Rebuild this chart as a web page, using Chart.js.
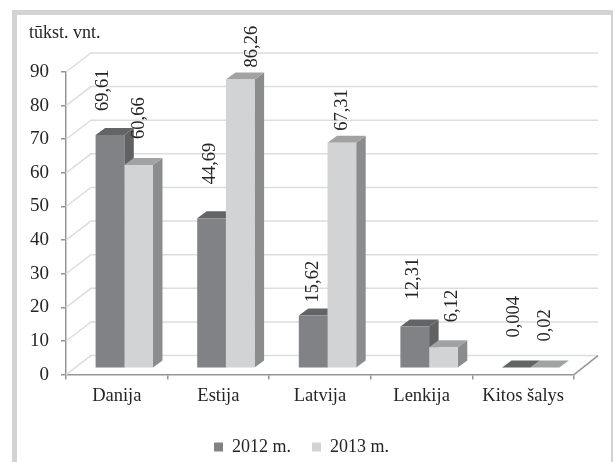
<!DOCTYPE html>
<html>
<head>
<meta charset="utf-8">
<script src="https://cdn.jsdelivr.net/npm/chart.js@4"></script>
<style>
  html, body { margin: 0; padding: 0; background: #fff; overflow: hidden; }
  #wrap { position: relative; width: 613px; height: 462px; overflow: hidden; }
  #frame { position: absolute; left: 12px; top: 10px; width: 594px; height: 470px; border: 5px solid #d1d3d4; }
  canvas { position: absolute; left: 0; top: 0; filter: blur(0.45px); }
</style>
</head>
<body>
<div id="wrap">
  <div id="frame"></div>
  <canvas id="chart" width="613" height="462"></canvas>
</div>
<script>
const categories = ['Danija', 'Estija', 'Latvija', 'Lenkija', 'Kitos šalys'];
const values2012 = [69.61, 44.69, 15.62, 12.31, 0.004];
const values2013 = [60.66, 86.26, 67.31, 6.12, 0.02];
const valueLabels2012 = ['69,61', '44,69', '15,62', '12,31', '0,004'];
const valueLabels2013 = ['60,66', '86,26', '67,31', '6,12', '0,02'];

// hand placed labels, same as the original: [shift x from bar centre, gap above bar]
const labelPlace2012 = [[-7, 24], [-1, 34], [0, 13], [-2, 27], [-2, 30]];
const labelPlace2013 = [[0, 26], [12, 12], [0, 12], [9, 25], [0, 26]];

const serif = '"Liberation Serif", "Times New Roman", serif';
const textColor = '#262526';
const axisColor = '#939598';
const gridColor = '#dcddde';

// wall depth and bar depth of the fake 3d
const wallDx = 25, wallDy = 19;
const barShiftX = 7.5, barShiftY = 7;
const barDx = 9.5, barDy = 7;

const walls = {
  id: 'walls',
  beforeDatasetsDraw(chart) {
    const { ctx, chartArea: a } = chart;
    const y = chart.scales.y;
    ctx.save();
    ctx.strokeStyle = gridColor;
    ctx.lineWidth = 1.5;
    y.ticks.forEach(t => {
      const py = y.getPixelForValue(t.value);
      ctx.beginPath();
      ctx.moveTo(a.left, py);
      ctx.lineTo(a.left + wallDx, py - wallDy);
      ctx.lineTo(a.right + wallDx - 1, py - wallDy);
      ctx.stroke();
    });
    ctx.strokeStyle = axisColor;
    ctx.beginPath();
    ctx.moveTo(a.right, a.bottom);
    ctx.lineTo(a.right + wallDx - 1, a.bottom - wallDy);
    ctx.stroke();
    ctx.restore();
  }
};

function face(ctx, color, pts) {
  ctx.fillStyle = color;
  ctx.beginPath();
  pts.forEach((p, i) => i ? ctx.lineTo(p[0], p[1]) : ctx.moveTo(p[0], p[1]));
  ctx.closePath();
  ctx.fill();
}

const bars3d = {
  id: 'bars3d',
  // side and top faces of all bars go first, the library then puts the fronts over them
  beforeDatasetsDraw(chart) {
    const { ctx } = chart;
    ctx.save();
    ctx.translate(barShiftX, -barShiftY);
    chart.data.datasets.forEach((ds, i) => {
      chart.getDatasetMeta(i).data.forEach(el => {
        const l = el.x - el.width / 2, r = el.x + el.width / 2;
        face(ctx, ds.sideColor, [[r, el.y], [r + barDx, el.y - barDy], [r + barDx, el.base - barDy], [r, el.base]]);
        face(ctx, ds.topColor, [[l, el.y], [l + barDx, el.y - barDy], [r + barDx, el.y - barDy], [r, el.y]]);
      });
    });
    ctx.restore();
  },
  beforeDatasetDraw(chart) {
    chart.ctx.save();
    chart.ctx.translate(barShiftX, -barShiftY);
  },
  afterDatasetDraw(chart) {
    chart.ctx.restore();
  },
  afterDatasetsDraw(chart) {
    const { ctx } = chart;
    ctx.save();
    ctx.fillStyle = textColor;
    ctx.font = '18.5px ' + serif;
    ctx.textAlign = 'left';
    ctx.textBaseline = 'middle';
    chart.data.datasets.forEach((ds, i) => {
      chart.getDatasetMeta(i).data.forEach((el, j) => {
        ctx.save();
        ctx.translate(el.x + barShiftX + ds.labelPlace[j][0], el.y - barShiftY - ds.labelPlace[j][1]);
        ctx.rotate(-Math.PI / 2);
        ctx.fillText(ds.valueLabels[j], 0, 0);
        ctx.restore();
      });
    });
    ctx.restore();
  }
};

new Chart(document.getElementById('chart'), {
  type: 'bar',
  data: {
    labels: categories,
    datasets: [
      {
        label: '2012 m.',
        data: values2012,
        yAxisID: 'yBars',
        clip: false,
        backgroundColor: '#808285',
        sideColor: '#606163',
        topColor: '#636466',
        valueLabels: valueLabels2012,
        labelPlace: labelPlace2012
      },
      {
        label: '2013 m.',
        data: values2013,
        yAxisID: 'yBars',
        clip: false,
        backgroundColor: '#d1d3d4',
        sideColor: '#8a8c8e',
        topColor: '#a0a2a4',
        valueLabels: valueLabels2013,
        labelPlace: labelPlace2013
      }
    ]
  },
  plugins: [walls, bars3d],
  options: {
    responsive: false,
    animation: false,
    layout: { padding: { left: 29, right: 39, top: 20, bottom: -4 } },
    datasets: { bar: { categoryPercentage: 0.565, barPercentage: 1 } },
    plugins: {
      tooltip: { enabled: false },
      title: {
        display: true,
        text: 'tūkst. vnt.',
        align: 'start',
        color: textColor,
        font: { family: serif, size: 18, weight: 'normal' },
        padding: { top: 2, bottom: 28.4 }
      },
      legend: {
        position: 'bottom',
        labels: {
          color: textColor,
          font: { family: serif, size: 18 },
          boxWidth: 9,
          boxHeight: 9,
          padding: 21
        }
      }
    },
    scales: {
      x: {
        afterFit: s => { s.height = 42.4; },
        grid: { drawOnChartArea: false, tickLength: 5, color: axisColor, lineWidth: 1.5 },
        border: { color: axisColor, width: 1.5 },
        ticks: { color: textColor, padding: 5, font: { family: serif, size: 18.5 }, maxRotation: 0 }
      },
      y: {
        min: 0,
        max: 90,
        afterFit: s => { s.width = 37; },
        grid: { drawOnChartArea: false, tickLength: 5, color: axisColor, lineWidth: 1.5 },
        border: { color: axisColor, width: 1.5 },
        ticks: { stepSize: 10, color: textColor, padding: 12, font: { family: serif, size: 19 } }
      },
      // bars sit on a slightly shorter inner plane than the front axis
      yBars: { display: false, min: 0, max: 90.6 }
    }
  }
});
</script>
</body>
</html>
